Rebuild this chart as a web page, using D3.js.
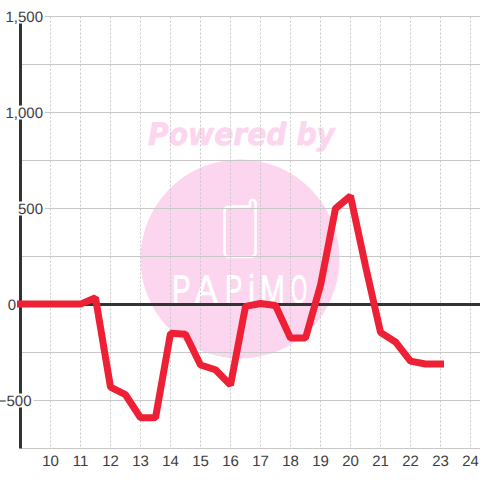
<!DOCTYPE html>
<html lang="en">
<head>
  <meta charset="utf-8">
  <title>Chart</title>
  <script src="https://d3js.org/d3.v7.min.js"></script>
  <style>
    html, body { margin: 0; padding: 0; background: #fff; }
    svg { display: block; }
    text { font-family: "Liberation Sans", sans-serif; text-rendering: geometricPrecision; }
  </style>
</head>
<body>
  <script>
    var hours = [9, 9.5, 10, 10.5, 11, 11.5, 12, 12.5, 13, 13.5, 14, 14.5, 15, 15.5, 16, 16.5, 17, 17.5, 18, 18.5, 19, 19.5, 20, 20.5, 21, 21.5, 22, 22.5, 23];
    var values = [2, 2, 2, 2, 2, 35, -430, -470, -590, -590, -150, -155, -315, -340, -420, -10, 5, -5, -175, -175, 100, 500, 565, 200, -145, -195, -295, -310, -310];
    var xTicks = [10, 11, 12, 13, 14, 15, 16, 17, 18, 19, 20, 21, 22, 23, 24];
    var yGrid = [1500, 1250, 1000, 750, 500, 250, 0, -250, -500, -750];
    var yLabels = [1500, 1000, 500, 0, -500];
    var logoLetters = "PAPiMO";
    var logoLeft = [172, 195, 225, 248, 260, 291];
    var logoSqueeze = [0.7, 0.85, 0.65, 0.8, 0.75, 0.52];

    var width = 480;
    var height = 480;

    var x = d3.scaleLinear().domain([9, 24]).range([20.5, 470.5]);
    var y = d3.scaleLinear().domain([-750, 1500]).range([448.5, 16.5]);

    var svg = d3.select("body")
      .append("svg")
      .attr("width", width)
      .attr("height", height);

    // watermark sits under the grid
    var mark = svg.append("g");
    mark.append("circle")
      .attr("cx", 240).attr("cy", 259).attr("r", 99.5)
      .attr("fill", "#fcd5ee");
    mark.append("text")
      .attr("x", 148).attr("y", 145)
      .attr("font-size", 31)
      .attr("font-weight", "bold")
      .attr("font-style", "italic")
      .attr("textLength", 187)
      .attr("lengthAdjust", "spacingAndGlyphs")
      .attr("style", "font-family: 'DejaVu Sans', sans-serif")
      .attr("fill", "#fcd5ee")
      .attr("stroke", "#fcd5ee")
      .attr("stroke-width", 0.6)
      .text("Powered by");
    // phone icon
    mark.append("path")
      .attr("d", "M229.5 206.5H250V202.5A2.75 2.75 0 0 1 255.5 202.5V252Q255.5 257 250.5 257H229.5Q224.5 257 224.5 252V211.5Q224.5 206.5 229.5 206.5Z")
      .attr("fill", "none")
      .attr("stroke", "#fff")
      .attr("stroke-width", 2.5);
    // logo letters, each squeezed to fit the narrow shapes
    mark.append("g")
      .selectAll("text")
      .data(logoLetters.split(""))
      .enter()
      .append("text")
      .attr("transform", function(d, i) { return "translate(" + logoLeft[i] + ",303) scale(" + logoSqueeze[i] + ",1)"; })
      .attr("font-size", 40)
      .attr("fill", "#fff")
      .attr("stroke", "#fff")
      .attr("stroke-width", 0.7)
      .text(function(d) { return d; });

    var grid = svg.append("g");
    grid.selectAll("line.h")
      .data(yGrid)
      .enter()
      .append("line")
      .attr("class", "h")
      .attr("x1", x(9)).attr("x2", width)
      .attr("y1", function(d) { return y(d); })
      .attr("y2", function(d) { return y(d); })
      .attr("stroke", "#c8c8c8");
    grid.selectAll("line.v")
      .data(xTicks)
      .enter()
      .append("line")
      .attr("class", "v")
      .attr("x1", function(d) { return x(d); })
      .attr("x2", function(d) { return x(d); })
      .attr("y1", y(1500)).attr("y2", y(-750))
      .attr("stroke", "#c8c8c8")
      .attr("stroke-dasharray", "2,2");

    // axes
    svg.append("line")
      .attr("x1", x(9)).attr("x2", x(9))
      .attr("y1", y(1500)).attr("y2", y(-750))
      .attr("stroke", "#333").attr("stroke-width", 3);
    svg.append("line")
      .attr("x1", x(9)).attr("x2", width)
      .attr("y1", y(0)).attr("y2", y(0))
      .attr("stroke", "#333").attr("stroke-width", 3);

    // each y label has a white box behind it that cuts the axis and grid
    var fmt = d3.format(",");
    var labelRight = function(d) { return d === 0 ? 16 : d === -500 ? 31.5 : 43; };
    var labels = svg.append("g");
    labels.selectAll("rect")
      .data(yLabels)
      .enter()
      .append("rect")
      .attr("x", 0)
      .attr("width", function(d) { return labelRight(d) + 2; })
      .attr("y", function(d) { return y(d) - 7; })
      .attr("height", 14)
      .attr("fill", "#fff");
    labels.selectAll("text")
      .data(yLabels)
      .enter()
      .append("text")
      .attr("x", labelRight)
      .attr("y", function(d) { return y(d) + 5.5; })
      .attr("text-anchor", "end")
      .attr("font-size", 15)
      .attr("fill", "#3c3c3c")
      .text(function(d) { return fmt(d); });

    svg.append("g").selectAll("text")
      .data(xTicks)
      .enter()
      .append("text")
      .attr("x", function(d) { return x(d); })
      .attr("y", 466)
      .attr("text-anchor", "middle")
      .attr("font-size", 15)
      .attr("fill", "#3c3c3c")
      .text(function(d) { return d; });

    var line = d3.line()
      .x(function(d, i) { return x(hours[i]); })
      .y(function(d) { return y(d); });

    svg.append("path")
      .datum(values)
      .attr("d", line)
      .attr("fill", "none")
      .attr("stroke", "#ee2035")
      .attr("stroke-width", 7)
      .attr("stroke-linejoin", "bevel")
      .attr("stroke-linecap", "square");
  </script>
</body>
</html>
